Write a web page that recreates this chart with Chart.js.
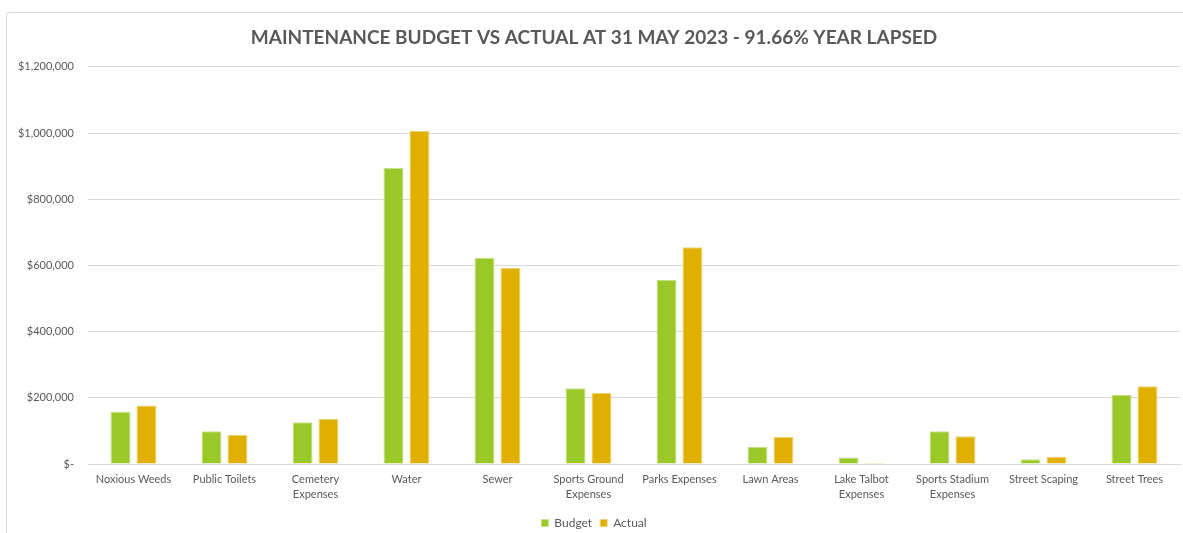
<!DOCTYPE html>
<html>
<head>
<meta charset="utf-8">
<title>Maintenance Budget vs Actual</title>
<script src="https://cdn.jsdelivr.net/npm/chart.js@4/dist/chart.umd.min.js"></script>
<style>
  html, body { margin: 0; padding: 0; background: #fff; overflow: hidden; }
  #wrap { position: relative; width: 1183px; height: 533px; }
  #frame {
    position: absolute; left: 6px; top: 12px; width: 1200px; height: 600px;
    border: 1px solid #d9d9d9; border-radius: 3px; box-sizing: border-box;
  }
  #maintenance-chart { position: absolute; left: 0; top: 0; }
</style>
</head>
<body>
<div id="wrap">
  <div id="frame"></div>
  <canvas id="maintenance-chart" width="1183" height="533"></canvas>
</div>
<script>
"use strict";

// Maintenance cost centres, budget vs actual (dollars)
const categories = [
  "Noxious Weeds", "Public Toilets", ["Cemetery", "Expenses"], "Water", "Sewer",
  ["Sports Ground", "Expenses"], "Parks Expenses", "Lawn Areas",
  ["Lake Talbot", "Expenses"], ["Sports Stadium", "Expenses"],
  "Street Scaping", "Street Trees",
];
const budgetValues = [158000, 99000, 126000, 894000, 623000, 229000, 557000, 52000, 20000, 99000, 14000, 209000];
const actualValues = [177000, 88000, 136000, 1007000, 593000, 215000, 655000, 82000, 3000, 84000, 22000, 235000];
const yTicks = [0, 200000, 400000, 600000, 800000, 1000000, 1200000];

const textGrey = "#595959";
const gridGrey = "#d9d9d9";
const fontFamily = "Lato, 'Open Sans', sans-serif";

function formatDollars(value) {
  if (value === 0) return "$-";
  return "$" + value.toLocaleString("en-US");
}

const chartData = {
  labels: categories,
  datasets: [
    {
      label: "Budget",
      data: budgetValues,
      backgroundColor: "#9ac828",
      borderColor: "#c6e28a",
      borderWidth: 1,
    },
    {
      label: "Actual",
      data: actualValues,
      backgroundColor: "#dfb000",
      borderColor: "#eed27a",
      borderWidth: 1,
    },
  ],
};

function renderChart(canvasId, data) {
  const ctx = document.getElementById(canvasId).getContext("2d");
  return new Chart(ctx, {
    type: "bar",
    data: data,
    options: {
      responsive: false,
      animation: false,
      devicePixelRatio: 1,
      // legend sits low in the frame, so the bottom padding is pulled in
      layout: { padding: { top: 12, left: 8, right: 3, bottom: -6 } },
      datasets: {
        bar: { categoryPercentage: 0.57, barPercentage: 0.77 },
      },
      plugins: {
        title: {
          display: true,
          text: "MAINTENANCE BUDGET VS ACTUAL AT 31 MAY 2023 - 91.66% YEAR LAPSED",
          color: textGrey,
          font: { family: fontFamily, size: 19, weight: "bold" },
          padding: { top: 14, bottom: 18 },
        },
        legend: {
          position: "bottom",
          labels: {
            color: textGrey,
            font: { family: fontFamily, size: 12 },
            boxWidth: 7,
            boxHeight: 7,
            padding: 8,
          },
        },
        tooltip: { enabled: false },
      },
      scales: {
        x: {
          grid: { display: false },
          border: { color: gridGrey },
          ticks: {
            color: textGrey,
            font: { family: fontFamily, size: 11, lineHeight: 1.35 },
            maxRotation: 0,
            autoSkip: false,
            padding: 0,
          },
          afterFit: (scale) => { scale.height = 45; },
        },
        y: {
          min: 0,
          max: 1200000,
          afterBuildTicks: (scale) => { scale.ticks = yTicks.map((v) => ({ value: v })); },
          grid: { color: gridGrey, drawTicks: false },
          border: { display: false },
          ticks: {
            color: textGrey,
            font: { family: fontFamily, size: 11 },
            padding: 14,
            callback: (value) => formatDollars(value),
          },
          afterFit: (scale) => { scale.width = 80; },
        },
      },
    },
  });
}

// Draw the budget vs actual comparison
const maintenanceChart = renderChart("maintenance-chart", chartData);
</script>
</body>
</html>
